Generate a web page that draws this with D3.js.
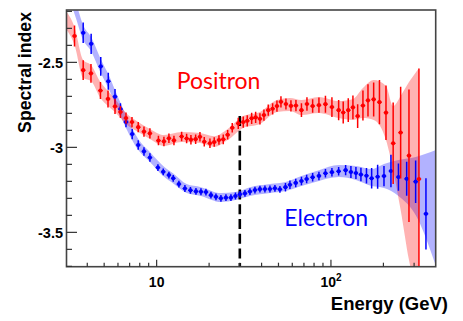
<!DOCTYPE html>
<html><head><meta charset="utf-8">
<script src="https://cdn.jsdelivr.net/npm/d3@7"></script>
<style>html,body{margin:0;padding:0;background:#fff;}svg{display:block;}</style>
</head><body>
<svg id="chart" width="463" height="321"></svg>
<script>
// ---------- data ----------
const posE = [3.38,3.79,4.20,4.76,5.26,5.77,6.20,6.67,7.22,7.84,8.46,9.15,10.24,11.01,11.76,12.57,13.91,14.86,15.73,16.74,17.72,18.76,20.22,21.40,22.78,24.11,25.55,27.15,29.39,31.40,33.11,35.08,36.98,39.14,41.26,43.68,46.29,49.00,51.66,55.18,58.95,62.98,67.73,72.84,78.52,85.33,92.99,101.3,110.7,117.6,125.7,133.7,142.3,152.6,163.1,175.8,189.8,206.9,227.5,251.1,280.3,319.8];
const posIndex = [-2.345,-2.546,-2.565,-2.666,-2.715,-2.759,-2.792,-2.828,-2.851,-2.881,-2.908,-2.918,-2.960,-2.965,-2.947,-2.959,-2.936,-2.948,-2.955,-2.952,-2.938,-2.967,-2.976,-2.969,-2.957,-2.953,-2.926,-2.885,-2.859,-2.851,-2.844,-2.829,-2.824,-2.832,-2.810,-2.781,-2.773,-2.757,-2.732,-2.745,-2.756,-2.754,-2.781,-2.745,-2.757,-2.752,-2.746,-2.763,-2.781,-2.795,-2.781,-2.765,-2.816,-2.754,-2.724,-2.718,-2.734,-2.796,-2.976,-2.913,-3.049,-3.186];
const posErr = [0.062,0.058,0.055,0.05,0.05,0.045,0.035,0.033,0.03,0.03,0.03,0.03,0.028,0.028,0.028,0.028,0.028,0.028,0.028,0.028,0.028,0.028,0.028,0.028,0.028,0.028,0.028,0.028,0.033,0.033,0.033,0.033,0.033,0.033,0.033,0.033,0.033,0.033,0.033,0.033,0.033,0.033,0.04,0.04,0.04,0.045,0.05,0.058,0.06,0.065,0.07,0.07,0.07,0.088,0.095,0.1,0.13,0.16,0.24,0.27,0.39,0.65];

const eleE = [3.79,4.21,4.78,5.28,5.77,6.20,6.67,7.24,7.84,8.46,9.15,10.17,10.91,11.76,12.45,13.42,14.53,15.63,16.81,17.96,19.18,20.49,21.89,23.38,24.98,26.68,28.32,30.06,32.11,34.30,36.64,39.14,41.81,44.67,47.71,50.96,54.83,58.18,62.81,67.73,72.55,78.52,85.33,92.99,101.3,110.7,121.4,130.2,139.1,148.6,159.9,171.2,185.3,201.5,220.9,243.9,271.9,306.1,350.8];
const eleIndex = [-2.326,-2.391,-2.524,-2.611,-2.702,-2.775,-2.851,-2.922,-2.986,-3.024,-3.060,-3.119,-3.144,-3.163,-3.182,-3.216,-3.242,-3.253,-3.259,-3.261,-3.263,-3.281,-3.291,-3.300,-3.296,-3.296,-3.286,-3.276,-3.271,-3.260,-3.251,-3.246,-3.245,-3.245,-3.241,-3.247,-3.234,-3.220,-3.209,-3.198,-3.186,-3.176,-3.168,-3.153,-3.146,-3.141,-3.134,-3.145,-3.151,-3.160,-3.167,-3.182,-3.173,-3.169,-3.139,-3.175,-3.185,-3.202,-3.391];
const eleErr = [0.06,0.06,0.055,0.05,0.045,0.035,0.03,0.03,0.028,0.025,0.025,0.02,0.02,0.02,0.02,0.02,0.02,0.02,0.02,0.02,0.02,0.02,0.02,0.02,0.02,0.02,0.02,0.02,0.02,0.02,0.02,0.02,0.02,0.02,0.02,0.02,0.025,0.025,0.025,0.025,0.025,0.025,0.025,0.025,0.025,0.025,0.03,0.035,0.035,0.04,0.045,0.06,0.07,0.06,0.095,0.08,0.1,0.125,0.21];

// fitted bands (energy knots, lower and upper edges)
const posBandE  = [3.02,3.38,3.79,4.20,4.76,5.26,5.77,6.67,7.84,9.15,11.01,13.91,17.72,21.40,25.55,31.40,39.14,49.00,58.18,67.73,85.33,110.7,133.7,152.6,175.8,206.9,227.5,251.1,280.3,319.8];
const posBandHi = [-2.198,-2.292,-2.486,-2.516,-2.616,-2.669,-2.716,-2.798,-2.851,-2.892,-2.928,-2.910,-2.916,-2.934,-2.892,-2.816,-2.792,-2.722,-2.710,-2.722,-2.704,-2.728,-2.716,-2.651,-2.604,-2.639,-2.757,-2.698,-2.616,-2.534];
const posBandLo = [-2.304,-2.398,-2.592,-2.610,-2.710,-2.757,-2.792,-2.863,-2.910,-2.951,-2.992,-2.969,-2.975,-2.998,-2.957,-2.886,-2.863,-2.792,-2.786,-2.810,-2.798,-2.828,-2.839,-2.828,-2.839,-2.957,-3.134,-3.369,-3.663,-3.898];

const eleBandE  = [3.02,3.44,3.79,4.21,4.78,5.28,5.77,6.67,7.84,9.15,10.91,12.57,14.86,17.96,23.38,28.32,34.30,44.67,54.83,67.73,85.33,110.7,139.1,171.2,201.5,243.9,306.1,400];
const eleBandHi = [-1.957,-2.145,-2.281,-2.351,-2.481,-2.569,-2.663,-2.810,-2.951,-3.028,-3.110,-3.157,-3.216,-3.234,-3.269,-3.263,-3.234,-3.216,-3.204,-3.169,-3.134,-3.104,-3.110,-3.128,-3.098,-3.075,-3.057,-3.016];
const eleBandLo = [-2.063,-2.239,-2.369,-2.434,-2.563,-2.651,-2.739,-2.886,-3.016,-3.086,-3.169,-3.216,-3.269,-3.286,-3.322,-3.310,-3.286,-3.269,-3.257,-3.228,-3.198,-3.175,-3.192,-3.228,-3.239,-3.286,-3.398,-3.698];

const xMajorTicks = [10, 100];
const xTickBase = ["10", "10"];
const xTickExp = ["", "2"];
const yMajorTicks = [-3.5, -3, -2.5];
const yTickLabels = ["-3.5", "-3", "-2.5"];
const dashEnergy = 30, dashTop = -2.816;

// ---------- chart ----------
const svg = d3.select("#chart");
const L = 66.5, R = 435.7, T = 10, B = 266.7;
const x = d3.scaleLog().domain([3.04, 399]).range([L, R]);
const y = d3.scaleLinear().domain([-3.702, -2.192]).range([B, T]);

svg.append("defs").append("clipPath").attr("id","clip")
  .append("rect").attr("x",L).attr("y",T).attr("width",R-L).attr("height",B-T);
const plot = svg.append("g").attr("clip-path","url(#clip)");

function band(E, lo, hi, color, op) {
  const d = E.map((e,i)=>({e, lo:lo[i], hi:hi[i]}));
  plot.append("path").datum(d)
    .attr("d", d3.area().x(p=>x(p.e)).y0(p=>y(p.lo)).y1(p=>y(p.hi)).curve(d3.curveMonotoneX))
    .attr("fill", color).attr("fill-opacity", op).attr("stroke","none");
}
band(eleBandE, eleBandLo, eleBandHi, "#0000ff", 0.3);
band(posBandE, posBandLo, posBandHi, "#ff0000", 0.3);

// dashed marker line at 30 GeV
plot.append("line").attr("x1",x(dashEnergy)).attr("x2",x(dashEnergy))
  .attr("y1",y(dashTop)).attr("y2",y(-3.702))
  .attr("stroke","#000").attr("stroke-width",2.6).attr("stroke-dasharray","10,4.7");

function points(E, V, Err, color) {
  const d = E.map((e,i)=>({e, v:V[i], err:Err[i]}));
  const g = plot.append("g");
  g.selectAll("line.ev").data(d).join("line")
    .attr("x1",p=>x(p.e)).attr("x2",p=>x(p.e))
    .attr("y1",p=>y(p.v-p.err)).attr("y2",p=>y(p.v+p.err))
    .attr("stroke",color).attr("stroke-width",1.5);
  g.selectAll("line.eh").data(d).join("line")
    .attr("x1",p=>x(p.e)-2.3).attr("x2",p=>x(p.e)+2.3)
    .attr("y1",p=>y(p.v)).attr("y2",p=>y(p.v))
    .attr("stroke",color).attr("stroke-width",1.2);
  g.selectAll("circle").data(d).join("circle")
    .attr("cx",p=>x(p.e)).attr("cy",p=>y(p.v)).attr("r",2.1).attr("fill",color);
}
points(eleE, eleIndex, eleErr, "#0000ff");
points(posE, posIndex, posErr, "#ff0000");

// frame
svg.append("rect").attr("x",L).attr("y",T).attr("width",R-L).attr("height",B-T)
  .attr("fill","none").attr("stroke","#444").attr("stroke-width",1.6);

// x ticks (inside)
const xAll = x.ticks().filter(t => t > x.domain()[0] && t < x.domain()[1]);
svg.append("g").selectAll("line").data(xAll).join("line")
  .attr("x1",t=>x(t)).attr("x2",t=>x(t))
  .attr("y1",B).attr("y2",t=>xMajorTicks.includes(t) ? B-7 : B-4)
  .attr("stroke","#333").attr("stroke-width",1.2);

const xl = svg.append("g").attr("font-family","'Liberation Sans', Arial, sans-serif")
  .attr("font-weight","bold").attr("font-size",14).attr("fill","#000");
xMajorTicks.forEach((t,i)=>{
  const txt = xl.append("text").attr("x",x(t)).attr("y",287).attr("text-anchor","middle");
  txt.append("tspan").text(xTickBase[i]);
  if (xTickExp[i]) txt.append("tspan").attr("font-size",10).attr("dy",-6).text(xTickExp[i]);
});

// y ticks
const yMinor = d3.range(-37, -21).map(v=>v/10);
svg.append("g").selectAll("line").data(yMinor).join("line")
  .attr("x1",L).attr("x2",v => yMajorTicks.some(m=>Math.abs(m-v)<1e-6) ? L+10.5 : L+5.5)
  .attr("y1",v=>y(v)).attr("y2",v=>y(v))
  .attr("stroke","#333").attr("stroke-width",1.2);
svg.append("g").selectAll("text").data(yMajorTicks).join("text")
  .attr("x",63).attr("y",v=>y(v)).attr("dy","0.36em").attr("text-anchor","end")
  .attr("font-family","'Liberation Sans', Arial, sans-serif").attr("font-weight","bold")
  .attr("font-size",14.5).text((v,i)=>yTickLabels[i]);

// axis titles
svg.append("text").attr("x",448).attr("y",310).attr("text-anchor","end")
  .attr("font-family","'Liberation Sans', Arial, sans-serif").attr("font-weight","bold")
  .attr("font-size",18.5).text("Energy (GeV)");
svg.append("text").attr("transform","translate(31,12) rotate(-90)").attr("text-anchor","end")
  .attr("font-family","'Liberation Sans', Arial, sans-serif").attr("font-weight","bold")
  .attr("font-size",17.7).text("Spectral index");

// series labels
svg.append("text").attr("x",176.7).attr("y",88.7).attr("fill","#ff0000")
  .attr("font-family","Lato, 'Open Sans', sans-serif").attr("font-size",23).text("Positron");
svg.append("text").attr("x",284.3).attr("y",226).attr("fill","#0000ff")
  .attr("font-family","Lato, 'Open Sans', sans-serif").attr("font-size",23).text("Electron");
</script>
</body></html>
